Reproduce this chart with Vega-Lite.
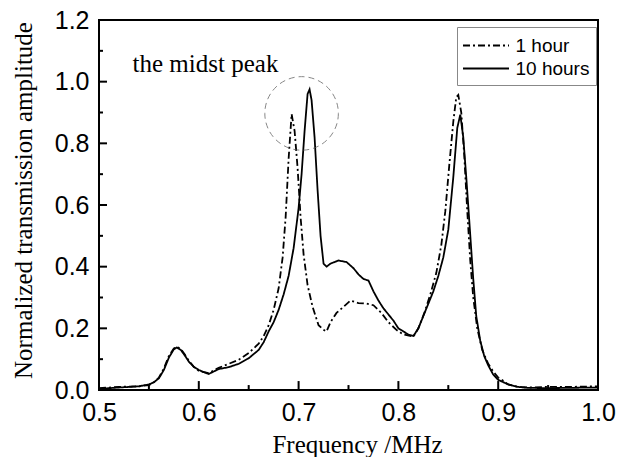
{
  "$schema": "https://vega.github.io/schema/vega-lite/v6.json",
  "autosize": {"type": "none"},
  "padding": {"left": 99, "top": 20, "right": 22, "bottom": 67},
  "width": 499,
  "height": 370,
  "background": "white",
  "config": {
    "view": {"stroke": "black", "strokeWidth": 2},
    "axis": {
      "domain": false, "ticks": false, "tickSize": 0, "zindex": 1,
      "labelFont": "Liberation Sans", "labelFontSize": 25, "labelColor": "black",
      "titleFont": "Liberation Serif", "titleFontSize": 25, "titleFontWeight": "normal", "titleColor": "black",
      "grid": false, "labelOverlap": false, "labelFlush": false
    },
    "legend": {
      "labelFont": "Liberation Sans", "labelFontSize": 19, "labelColor": "black"
    }
  },
  "datasets": {
    "curves": [
      {"f":0.50,"v":0.004,"s":"10 hours"},{"f":0.51,"v":0.006,"s":"10 hours"},{"f":0.52,"v":0.008,"s":"10 hours"},{"f":0.53,"v":0.010,"s":"10 hours"},{"f":0.54,"v":0.012,"s":"10 hours"},{"f":0.55,"v":0.018,"s":"10 hours"},{"f":0.555,"v":0.025,"s":"10 hours"},{"f":0.56,"v":0.038,"s":"10 hours"},{"f":0.565,"v":0.065,"s":"10 hours"},{"f":0.57,"v":0.105,"s":"10 hours"},{"f":0.575,"v":0.132,"s":"10 hours"},{"f":0.578,"v":0.138,"s":"10 hours"},{"f":0.582,"v":0.13,"s":"10 hours"},{"f":0.586,"v":0.112,"s":"10 hours"},{"f":0.59,"v":0.092,"s":"10 hours"},{"f":0.595,"v":0.075,"s":"10 hours"},{"f":0.60,"v":0.065,"s":"10 hours"},{"f":0.605,"v":0.058,"s":"10 hours"},{"f":0.61,"v":0.052,"s":"10 hours"},{"f":0.615,"v":0.06,"s":"10 hours"},{"f":0.62,"v":0.068,"s":"10 hours"},{"f":0.63,"v":0.074,"s":"10 hours"},{"f":0.64,"v":0.085,"s":"10 hours"},{"f":0.65,"v":0.103,"s":"10 hours"},{"f":0.66,"v":0.13,"s":"10 hours"},{"f":0.665,"v":0.155,"s":"10 hours"},{"f":0.67,"v":0.19,"s":"10 hours"},{"f":0.675,"v":0.22,"s":"10 hours"},{"f":0.68,"v":0.26,"s":"10 hours"},{"f":0.685,"v":0.31,"s":"10 hours"},{"f":0.69,"v":0.37,"s":"10 hours"},{"f":0.695,"v":0.46,"s":"10 hours"},{"f":0.70,"v":0.59,"s":"10 hours"},{"f":0.703,"v":0.70,"s":"10 hours"},{"f":0.706,"v":0.84,"s":"10 hours"},{"f":0.709,"v":0.96,"s":"10 hours"},{"f":0.711,"v":0.975,"s":"10 hours"},{"f":0.713,"v":0.94,"s":"10 hours"},{"f":0.716,"v":0.82,"s":"10 hours"},{"f":0.719,"v":0.65,"s":"10 hours"},{"f":0.722,"v":0.50,"s":"10 hours"},{"f":0.725,"v":0.41,"s":"10 hours"},{"f":0.728,"v":0.40,"s":"10 hours"},{"f":0.732,"v":0.41,"s":"10 hours"},{"f":0.74,"v":0.42,"s":"10 hours"},{"f":0.748,"v":0.415,"s":"10 hours"},{"f":0.755,"v":0.395,"s":"10 hours"},{"f":0.76,"v":0.375,"s":"10 hours"},{"f":0.765,"v":0.36,"s":"10 hours"},{"f":0.77,"v":0.355,"s":"10 hours"},{"f":0.775,"v":0.32,"s":"10 hours"},{"f":0.78,"v":0.29,"s":"10 hours"},{"f":0.785,"v":0.265,"s":"10 hours"},{"f":0.79,"v":0.245,"s":"10 hours"},{"f":0.795,"v":0.225,"s":"10 hours"},{"f":0.80,"v":0.20,"s":"10 hours"},{"f":0.805,"v":0.19,"s":"10 hours"},{"f":0.81,"v":0.18,"s":"10 hours"},{"f":0.815,"v":0.175,"s":"10 hours"},{"f":0.82,"v":0.2,"s":"10 hours"},{"f":0.825,"v":0.24,"s":"10 hours"},{"f":0.83,"v":0.28,"s":"10 hours"},{"f":0.835,"v":0.32,"s":"10 hours"},{"f":0.84,"v":0.37,"s":"10 hours"},{"f":0.845,"v":0.43,"s":"10 hours"},{"f":0.85,"v":0.52,"s":"10 hours"},{"f":0.855,"v":0.69,"s":"10 hours"},{"f":0.859,"v":0.85,"s":"10 hours"},{"f":0.862,"v":0.893,"s":"10 hours"},{"f":0.865,"v":0.82,"s":"10 hours"},{"f":0.868,"v":0.69,"s":"10 hours"},{"f":0.871,"v":0.55,"s":"10 hours"},{"f":0.875,"v":0.36,"s":"10 hours"},{"f":0.878,"v":0.24,"s":"10 hours"},{"f":0.882,"v":0.16,"s":"10 hours"},{"f":0.886,"v":0.11,"s":"10 hours"},{"f":0.89,"v":0.08,"s":"10 hours"},{"f":0.895,"v":0.05,"s":"10 hours"},{"f":0.90,"v":0.033,"s":"10 hours"},{"f":0.91,"v":0.018,"s":"10 hours"},{"f":0.92,"v":0.01,"s":"10 hours"},{"f":0.93,"v":0.007,"s":"10 hours"},{"f":0.95,"v":0.006,"s":"10 hours"},{"f":0.97,"v":0.007,"s":"10 hours"},{"f":1.0,"v":0.008,"s":"10 hours"},
      {"f":0.50,"v":0.006,"s":"1 hour"},{"f":0.52,"v":0.01,"s":"1 hour"},{"f":0.54,"v":0.012,"s":"1 hour"},{"f":0.55,"v":0.016,"s":"1 hour"},{"f":0.555,"v":0.025,"s":"1 hour"},{"f":0.56,"v":0.04,"s":"1 hour"},{"f":0.565,"v":0.07,"s":"1 hour"},{"f":0.57,"v":0.11,"s":"1 hour"},{"f":0.575,"v":0.135,"s":"1 hour"},{"f":0.578,"v":0.14,"s":"1 hour"},{"f":0.582,"v":0.133,"s":"1 hour"},{"f":0.586,"v":0.115,"s":"1 hour"},{"f":0.59,"v":0.095,"s":"1 hour"},{"f":0.595,"v":0.075,"s":"1 hour"},{"f":0.60,"v":0.062,"s":"1 hour"},{"f":0.61,"v":0.055,"s":"1 hour"},{"f":0.62,"v":0.072,"s":"1 hour"},{"f":0.63,"v":0.085,"s":"1 hour"},{"f":0.64,"v":0.098,"s":"1 hour"},{"f":0.65,"v":0.12,"s":"1 hour"},{"f":0.66,"v":0.15,"s":"1 hour"},{"f":0.665,"v":0.175,"s":"1 hour"},{"f":0.67,"v":0.21,"s":"1 hour"},{"f":0.675,"v":0.26,"s":"1 hour"},{"f":0.68,"v":0.33,"s":"1 hour"},{"f":0.684,"v":0.43,"s":"1 hour"},{"f":0.687,"v":0.56,"s":"1 hour"},{"f":0.69,"v":0.75,"s":"1 hour"},{"f":0.693,"v":0.895,"s":"1 hour"},{"f":0.696,"v":0.84,"s":"1 hour"},{"f":0.699,"v":0.72,"s":"1 hour"},{"f":0.702,"v":0.56,"s":"1 hour"},{"f":0.705,"v":0.44,"s":"1 hour"},{"f":0.709,"v":0.34,"s":"1 hour"},{"f":0.714,"v":0.27,"s":"1 hour"},{"f":0.72,"v":0.21,"s":"1 hour"},{"f":0.725,"v":0.195,"s":"1 hour"},{"f":0.728,"v":0.19,"s":"1 hour"},{"f":0.732,"v":0.22,"s":"1 hour"},{"f":0.738,"v":0.25,"s":"1 hour"},{"f":0.745,"v":0.27,"s":"1 hour"},{"f":0.752,"v":0.29,"s":"1 hour"},{"f":0.76,"v":0.282,"s":"1 hour"},{"f":0.768,"v":0.28,"s":"1 hour"},{"f":0.775,"v":0.275,"s":"1 hour"},{"f":0.783,"v":0.25,"s":"1 hour"},{"f":0.79,"v":0.22,"s":"1 hour"},{"f":0.798,"v":0.195,"s":"1 hour"},{"f":0.805,"v":0.18,"s":"1 hour"},{"f":0.815,"v":0.173,"s":"1 hour"},{"f":0.82,"v":0.2,"s":"1 hour"},{"f":0.826,"v":0.25,"s":"1 hour"},{"f":0.832,"v":0.31,"s":"1 hour"},{"f":0.838,"v":0.38,"s":"1 hour"},{"f":0.843,"v":0.47,"s":"1 hour"},{"f":0.847,"v":0.58,"s":"1 hour"},{"f":0.851,"v":0.73,"s":"1 hour"},{"f":0.855,"v":0.87,"s":"1 hour"},{"f":0.858,"v":0.95,"s":"1 hour"},{"f":0.86,"v":0.957,"s":"1 hour"},{"f":0.863,"v":0.9,"s":"1 hour"},{"f":0.866,"v":0.76,"s":"1 hour"},{"f":0.869,"v":0.58,"s":"1 hour"},{"f":0.872,"v":0.42,"s":"1 hour"},{"f":0.875,"v":0.3,"s":"1 hour"},{"f":0.879,"v":0.2,"s":"1 hour"},{"f":0.884,"v":0.13,"s":"1 hour"},{"f":0.89,"v":0.085,"s":"1 hour"},{"f":0.895,"v":0.06,"s":"1 hour"},{"f":0.90,"v":0.04,"s":"1 hour"},{"f":0.905,"v":0.03,"s":"1 hour"},{"f":0.91,"v":0.018,"s":"1 hour"},{"f":0.92,"v":0.01,"s":"1 hour"},{"f":0.93,"v":0.008,"s":"1 hour"},{"f":0.95,"v":0.01,"s":"1 hour"},{"f":0.97,"v":0.01,"s":"1 hour"},{"f":1.0,"v":0.012,"s":"1 hour"}
    ],
    "notes": [
      {"f":0.6067,"v":1.03,"label":"the midst peak"}
    ],
    "circle": [
      {"f":0.703,"v":0.897}
    ],
    "xmajor": [{"t":0.6},{"t":0.7},{"t":0.8},{"t":0.9}],
    "xminor": [{"t":0.55},{"t":0.65},{"t":0.75},{"t":0.85},{"t":0.95}],
    "ymajor": [{"t":0.2},{"t":0.4},{"t":0.6},{"t":0.8},{"t":1.0}],
    "yminor": [{"t":0.1},{"t":0.3},{"t":0.5},{"t":0.7},{"t":0.9},{"t":1.1}]
  },
  "layer": [
    {
      "data": {"name": "curves"},
      "mark": {"type": "line", "color": "black", "strokeWidth": 1.8, "clip": true},
      "encoding": {
        "x": {
          "field": "f", "type": "quantitative",
          "scale": {"domain": [0.5, 1.0], "nice": false, "zero": false},
          "axis": {
            "orient": "bottom",
            "title": "Frequency /MHz",
            "values": [0.5,0.6,0.7,0.8,0.9,1.0],
            "format": ".1f",
            "labelPadding": 10,
            "titleX": 258, "titleY": 62, "titleBaseline": "alphabetic"
          }
        },
        "y": {
          "field": "v", "type": "quantitative",
          "scale": {"domain": [0, 1.2], "nice": false},
          "axis": {
            "orient": "left",
            "title": "Normalized transmission amplitude",
            "values": [0,0.2,0.4,0.6,0.8,1.0,1.2],
            "format": ".1f",
            "labelPadding": 10,
            "titleX": -76, "titleY": 180, "titleBaseline": "middle"
          }
        },
        "strokeDash": {
          "field": "s", "type": "nominal",
          "scale": {"domain": ["1 hour", "10 hours"], "range": [[7,3,2,3],[1,0]]},
          "legend": {
            "title": null, "orient": "none", "legendX": 358, "legendY": 7,
            "strokeColor": "#888", "padding": 6, "fillColor": "white",
            "symbolType": "M-2,0H2", "symbolSize": 529, "symbolOffset": 10.5,
            "symbolStrokeColor": "black", "symbolStrokeWidth": 1.8,
            "labelOffset": 17, "rowPadding": -3
          }
        }
      }
    },
    {
      "data": {"name": "xmajor"},
      "mark": {"type": "rule", "color": "black", "strokeWidth": 2},
      "encoding": {
        "x": {"field": "t", "type": "quantitative"},
        "y": {"datum": 0},
        "y2": {"datum": 0.029}
      }
    },
    {
      "data": {"name": "xminor"},
      "mark": {"type": "rule", "color": "black", "strokeWidth": 2},
      "encoding": {
        "x": {"field": "t", "type": "quantitative"},
        "y": {"datum": 0},
        "y2": {"datum": 0.016}
      }
    },
    {
      "data": {"name": "ymajor"},
      "mark": {"type": "rule", "color": "black", "strokeWidth": 2},
      "encoding": {
        "y": {"field": "t", "type": "quantitative"},
        "x": {"datum": 0.5},
        "x2": {"datum": 0.508}
      }
    },
    {
      "data": {"name": "yminor"},
      "mark": {"type": "rule", "color": "black", "strokeWidth": 2},
      "encoding": {
        "y": {"field": "t", "type": "quantitative"},
        "x": {"datum": 0.5},
        "x2": {"datum": 0.504}
      }
    },
    {
      "data": {"name": "circle"},
      "mark": {"type": "point", "shape": "circle", "filled": false, "size": 5411, "stroke": "#555", "strokeWidth": 1, "strokeDash": [6,4]},
      "encoding": {
        "x": {"field": "f", "type": "quantitative"},
        "y": {"field": "v", "type": "quantitative"}
      }
    },
    {
      "data": {"name": "notes"},
      "mark": {"type": "text", "font": "Liberation Serif", "fontSize": 25, "color": "black", "baseline": "alphabetic", "align": "center"},
      "encoding": {
        "x": {"field": "f", "type": "quantitative"},
        "y": {"field": "v", "type": "quantitative"},
        "text": {"field": "label"}
      }
    }
  ]
}
